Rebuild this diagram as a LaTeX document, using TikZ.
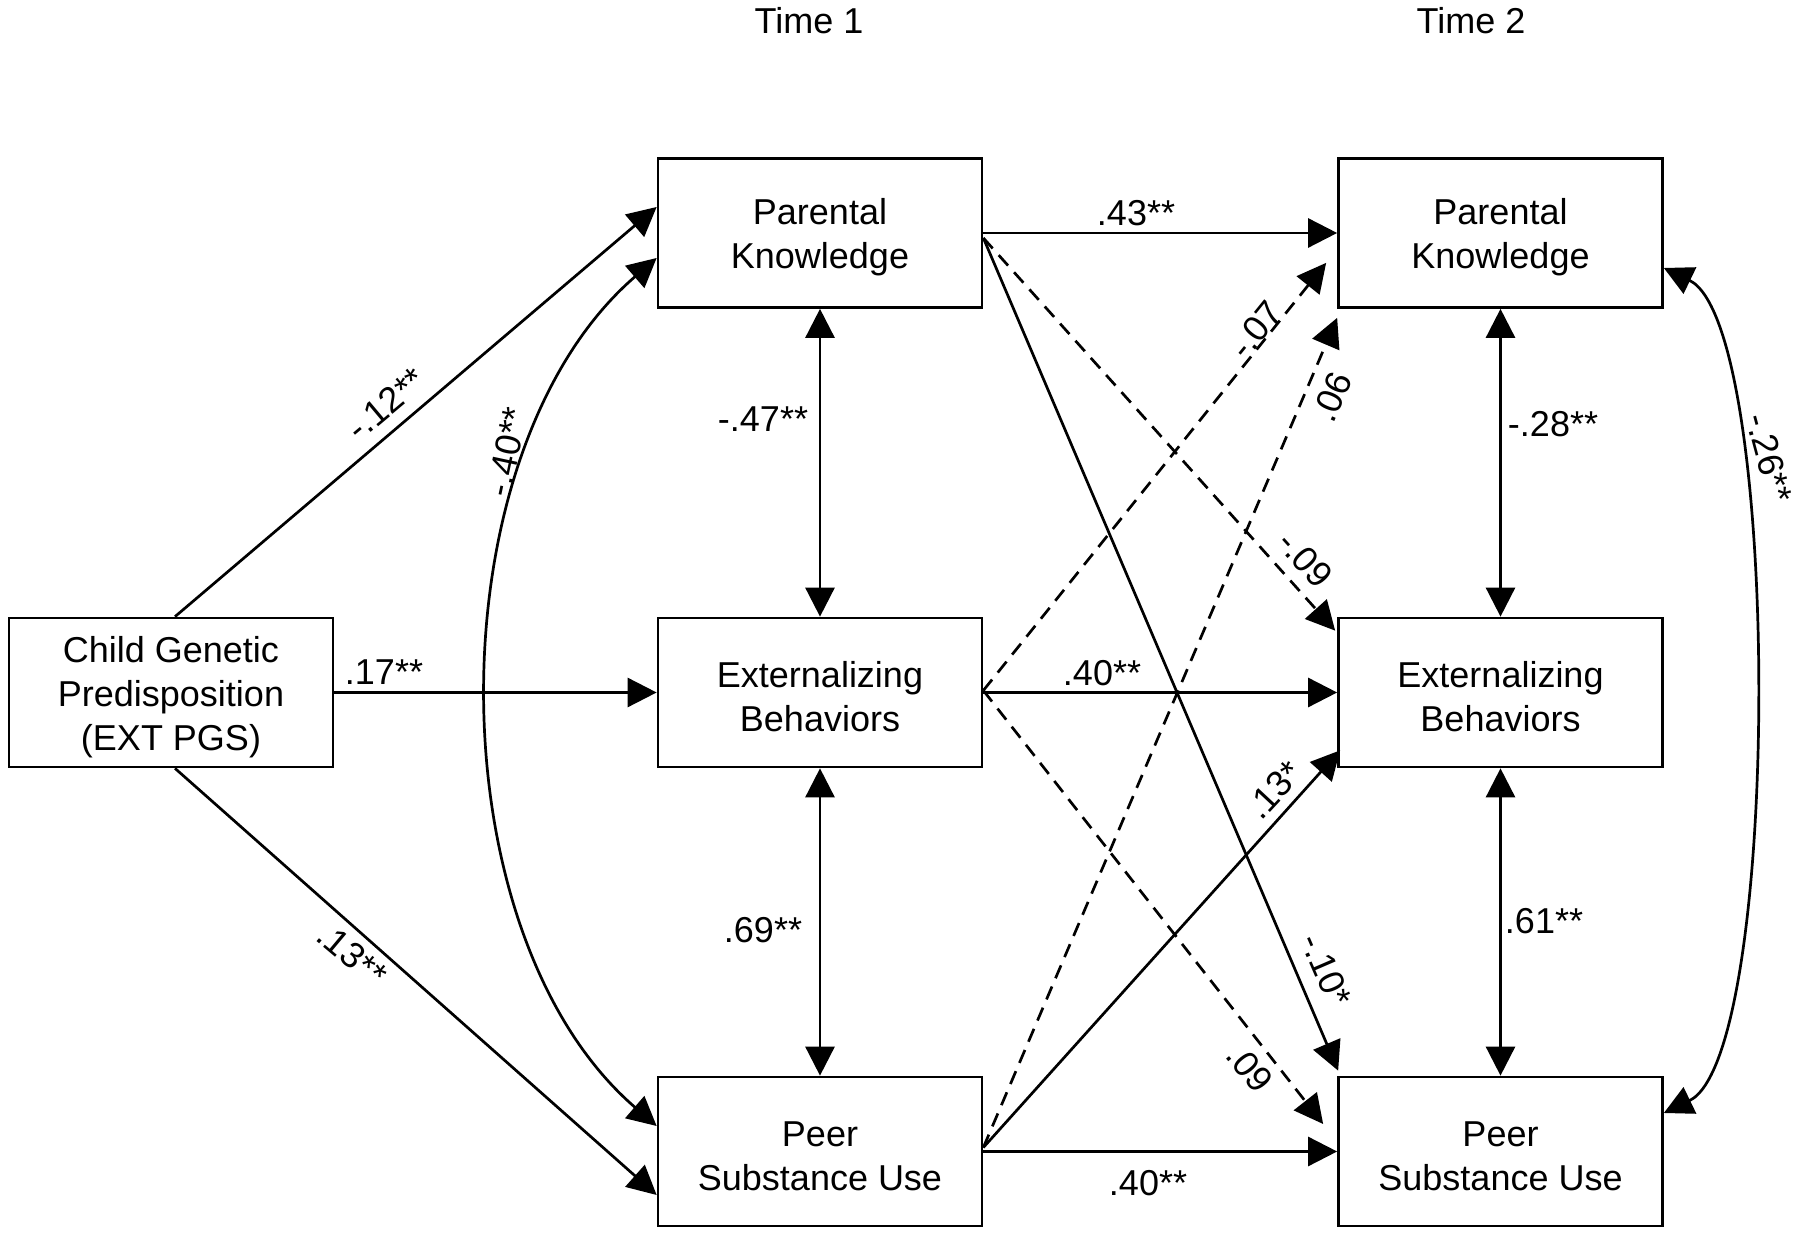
\documentclass[tikz,border=0pt]{standalone}
\usepackage{fontspec}
\setmainfont{Liberation Sans}
\usetikzlibrary{arrows.meta,calc}
\begin{document}
\begin{tikzpicture}[x=0.5pt,y=-0.5pt,
  box/.style={draw, line width=1.35pt, minimum width=162pt, minimum height=74.5pt, inner sep=0pt},
  boxtext/.style={inner sep=0pt, align=center, font=\fontsize{18}{22}\selectfont},
  lbl/.style={inner sep=1pt, font=\fontsize{18}{22}\selectfont},
  arr/.style={line width=1.35pt, -{Triangle[length=14.5pt,width=14.5pt]}},
  darr/.style={line width=1.35pt, {Triangle[length=14.5pt,width=14.5pt]}-{Triangle[length=14.5pt,width=14.5pt]}},
  dsh/.style={dash pattern=on 7pt off 4.5pt}
]
\useasboundingbox[fill=white] (0,0) rectangle (1800,1234);

% titles
\node[lbl] (t1) at (809,21) {Time 1};
\node[lbl] (t2) at (1471,21) {Time 2};

% boxes
\node[box] (child) at (171,692.5) {};
\node[box] (pk1) at (820,233) {};
\node[box] (ext1) at (820,692.5) {};
\node[box] (peer1) at (820,1151.5) {};
\node[box] (pk2) at (1500.5,233) {};
\node[box] (ext2) at (1500.5,692.5) {};
\node[box] (peer2) at (1500.5,1151.5) {};

% box texts
\node[boxtext] (childt) at ($(child)+(0,4.5)$) {Child Genetic\\Predisposition\\(EXT PGS)};
\node[boxtext] (pk1t) at ($(pk1)+(0,4.5)$) {Parental\\Knowledge};
\node[boxtext] (ext1t) at ($(ext1)+(0,4.5)$) {Externalizing\\Behaviors};
\node[boxtext] (peer1t) at ($(peer1)+(0,4.5)$) {Peer\\Substance Use};
\node[boxtext] (pk2t) at ($(pk2)+(0,4.5)$) {Parental\\Knowledge};
\node[boxtext] (ext2t) at ($(ext2)+(0,4.5)$) {Externalizing\\Behaviors};
\node[boxtext] (peer2t) at ($(peer2)+(0,4.5)$) {Peer\\Substance Use};

% genetic paths
\draw[arr] ($(child.north)+(4,0)$) -- ($(pk1.west)+(0,-26)$);
\draw[arr] (child.east) -- (ext1.west);
\draw[arr] ($(child.south)+(4,0)$) -- ($(peer1.west)+(0,43.5)$);

% correlations
\draw[darr] ($(pk1.west)+(0,25)$) .. controls (433,451) and (433,933) .. ($(peer1.west)+(0,-25.5)$);
\draw[darr] (pk1.south) -- (ext1.north);
\draw[darr] (ext1.south) -- (peer1.north);
\draw[darr] (pk2.south) -- (ext2.north);
\draw[darr] (ext2.south) -- (peer2.north);
\draw[darr] ($(pk2.east)+(0,35)$) .. controls (1782,325) and (1782,1056) .. ($(peer2.east)+(0,-38.5)$);

% stability paths
\draw[arr] (pk1.east) -- (pk2.west);
\draw[arr] (ext1.east) -- (ext2.west);
\draw[arr] (peer1.east) -- (peer2.west);

% cross-lagged paths
\draw[arr,dsh] ($(pk1.east)+(0,5)$) -- ($(ext2.north west)+(-2,14)$);
\draw[arr] ($(pk1.east)+(0,5)$) -- ($(peer2.north west)+(1,-5)$);
\draw[arr,dsh] ($(ext1.east)+(0,-2)$) -- ($(pk2.south west)+(-11,-46)$);
\draw[arr,dsh] ($(ext1.east)+(0,-2)$) -- ($(peer2.west)+(-14,-27.5)$);
\draw[arr,dsh] ($(peer1.east)+(0,-4)$) -- ($(pk2.south west)+(0,9)$);
\draw[arr] ($(peer1.east)+(0,-4)$) -- ($(ext2.south west)+(3,-18)$);

% labels
\node[lbl,rotate=40] (l1) at (386,404) {-.12**};
\node[lbl] (l2) at (384,672) {.17**};
\node[lbl,rotate=-40] (l3) at (352,955) {.13**};
\node[lbl,rotate=78] (l4) at (507,452) {-.40**};
\node[lbl] (l5) at (763,419) {-.47**};
\node[lbl] (l6) at (763,930) {.69**};
\node[lbl] (l7) at (1136,213) {.43**};
\node[lbl] (l8) at (1102,673) {.40**};
\node[lbl] (l9) at (1148,1183) {.40**};
\node[lbl,rotate=51] (l10) at (1256,330) {-.07};
\node[lbl,rotate=67] (l11) at (1332,397) {.06};
\node[lbl,rotate=-48] (l12) at (1305,559) {-.09};
\node[lbl,rotate=-51] (l13) at (1250,1068) {.09};
\node[lbl,rotate=-66.6] (l14) at (1326,970) {-.10*};
\node[lbl,rotate=47] (l15) at (1274,790) {.13*};
\node[lbl] (l16) at (1553,424) {-.28**};
\node[lbl] (l17) at (1544,921) {.61**};
\node[lbl,rotate=-75] (l18) at (1769,458) {-.26**};
\end{tikzpicture}
\end{document}
